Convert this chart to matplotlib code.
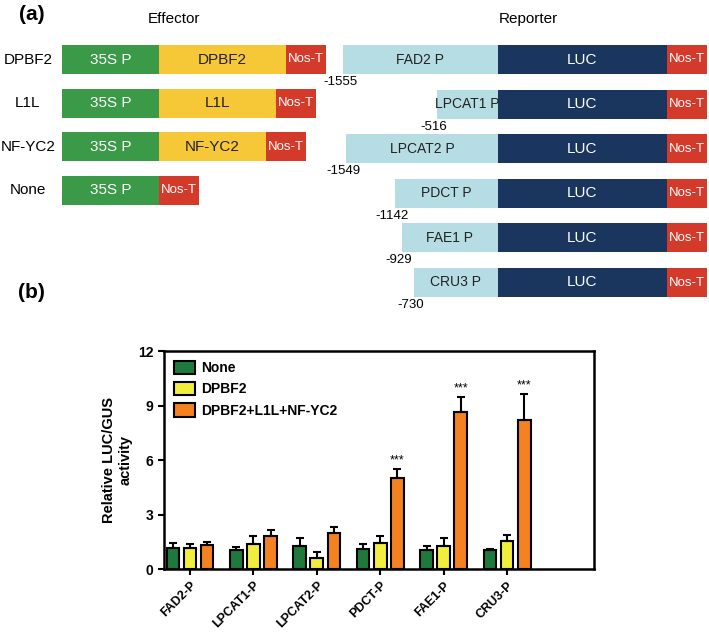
import numpy as np
import matplotlib.pyplot as plt
from matplotlib.patches import Patch

plt.rcParams['font.family'] = ['Liberation Sans', 'DejaVu Sans']

# ---- panel (a) schematic ----
eff_names = ['DPBF2', 'L1L', 'NF-YC2', 'None']
eff_cds_width = [127, 117, 107, 0]      # yellow coding region box width (px)
rep_names = ['FAD2 P', 'LPCAT1 P', 'LPCAT2 P', 'PDCT P', 'FAE1 P', 'CRU3 P']
rep_starts = ['-1555', '-516', '-1549', '-1142', '-929', '-730']
rep_prom_width = [155, 61, 152, 103, 96, 84]  # promoter box width (px)

# ---- panel (b) bar chart ----
promoters = ['FAD2-P', 'LPCAT1-P', 'LPCAT2-P', 'PDCT-P', 'FAE1-P', 'CRU3-P']
none_mean = [1.16, 1.03, 1.25, 1.10, 1.03, 1.07]
none_err = [0.28, 0.19, 0.44, 0.28, 0.22, 0.04]
dpbf2_mean = [1.16, 1.40, 0.61, 1.44, 1.29, 1.53]
dpbf2_err = [0.24, 0.44, 0.35, 0.40, 0.40, 0.33]
combo_mean = [1.34, 1.80, 1.99, 4.99, 8.62, 8.20]
combo_err = [0.15, 0.37, 0.31, 0.51, 0.87, 1.43]
signif = ['', '', '', '***', '***', '***']

GREEN = '#3a9a48'
YELLOW = '#f6c736'
RED = '#d43a2a'
LBLUE = '#b6dde4'
NAVY = '#1b365e'

fig = plt.figure(figsize=(7.09, 6.36), dpi=100)

# schematic axes in pixel units
sa = fig.add_axes([0, 0, 1, 1])
sa.set_xlim(0, 709)
sa.set_ylim(636, 0)
sa.axis('off')

sa.text(19, 14, '(a)', fontsize=15, fontweight='bold', va='center', ha='left')
sa.text(174, 19, 'Effector', fontsize=11, ha='center', va='center')
sa.text(528, 19, 'Reporter', fontsize=11, ha='center', va='center')

h = 29
x0 = 62
w35 = 97
wnos = 40
for i, name in enumerate(eff_names):
    yc = 59.5 + i * 43.6
    sa.barh(yc, w35, left=x0, height=h, color=GREEN)
    sa.text(x0 + w35 / 2, yc, '35S P', color='white', fontsize=11, ha='center', va='center')
    xc = x0 + w35
    if eff_cds_width[i] > 0:
        sa.barh(yc, eff_cds_width[i], left=xc, height=h, color=YELLOW)
        sa.text(xc + eff_cds_width[i] / 2, yc, name, color='#222222', fontsize=11,
                ha='center', va='center')
        xc += eff_cds_width[i]
    sa.barh(yc, wnos, left=xc, height=h, color=RED)
    sa.text(xc + wnos / 2, yc, 'Nos-T', color='white', fontsize=9.5, ha='center', va='center')
    sa.text(28, yc, name, fontsize=11, ha='center', va='center')

luc_x = 498
luc_w = 169
for i, name in enumerate(rep_names):
    yc = 59.5 + i * 44.6
    pw = rep_prom_width[i]
    sa.barh(yc, pw, left=luc_x - pw, height=h, color=LBLUE)
    sa.text(luc_x - pw / 2, yc, name, color='#222222', fontsize=10, ha='center', va='center')
    sa.barh(yc, luc_w, left=luc_x, height=h, color=NAVY)
    sa.text(luc_x + luc_w / 2, yc, 'LUC', color='white', fontsize=11, ha='center', va='center')
    sa.barh(yc, wnos, left=luc_x + luc_w, height=h, color=RED)
    sa.text(luc_x + luc_w + wnos / 2, yc, 'Nos-T', color='white', fontsize=9.5,
            ha='center', va='center')
    sa.text(luc_x - pw - 3, yc + h / 2 + 8, rep_starts[i], fontsize=9.5, ha='center', va='center')

sa.text(18, 293, '(b)', fontsize=15, fontweight='bold', va='center', ha='left')

# bar chart axes
ax = fig.add_axes([0.2313, 0.1053, 0.6065, 0.3428])
x = np.arange(len(promoters))
off = 0.27
bw = 0.2
ekw = dict(ecolor='black', elinewidth=1.5, capsize=3, capthick=1.5)
zeros = [0] * len(promoters)
ax.bar(x - off, none_mean, bw, color='#1e7a3c', edgecolor='black', linewidth=1.5,
       yerr=[zeros, none_err], error_kw=ekw, label='None')
ax.bar(x, dpbf2_mean, bw, color='#f2ee3e', edgecolor='black', linewidth=1.5,
       yerr=[zeros, dpbf2_err], error_kw=ekw, label='DPBF2')
ax.bar(x + off, combo_mean, bw, color='#f58220', edgecolor='black', linewidth=1.5,
       yerr=[zeros, combo_err], error_kw=ekw, label='DPBF2+L1L+NF-YC2')
for i, s in enumerate(signif):
    if s:
        ax.text(x[i] + off, combo_mean[i] + combo_err[i] + 0.45, s, fontsize=9,
                ha='center', va='center')

ax.set_xlim(-0.41, 6.37)
ax.set_ylim(0, 12)
ax.set_yticks([0, 3, 6, 9, 12])
ax.set_xticks(x)
ax.set_xticklabels(promoters, rotation=45, ha='right', rotation_mode='anchor',
                   fontsize=9, fontweight='bold')
for lab in ax.get_yticklabels():
    lab.set_fontweight('bold')
    lab.set_fontsize(10)
ax.tick_params(width=1.5, length=4)
for sp in ax.spines.values():
    sp.set_linewidth(1.8)
ax.set_ylabel('Relative LUC/GUS\nactivity', fontsize=10.5, fontweight='bold')

handles = [Patch(facecolor='#1e7a3c', edgecolor='black', linewidth=1.5),
           Patch(facecolor='#f2ee3e', edgecolor='black', linewidth=1.5),
           Patch(facecolor='#f58220', edgecolor='black', linewidth=1.5)]
ax.legend(handles, ['None', 'DPBF2', 'DPBF2+L1L+NF-YC2'], loc='upper left',
          frameon=False, prop={'weight': 'bold', 'size': 10}, handlelength=1.5,
          handleheight=1.1, borderaxespad=0.3, labelspacing=0.5, handletextpad=0.5)

fig.savefig('out.png', dpi=100)
